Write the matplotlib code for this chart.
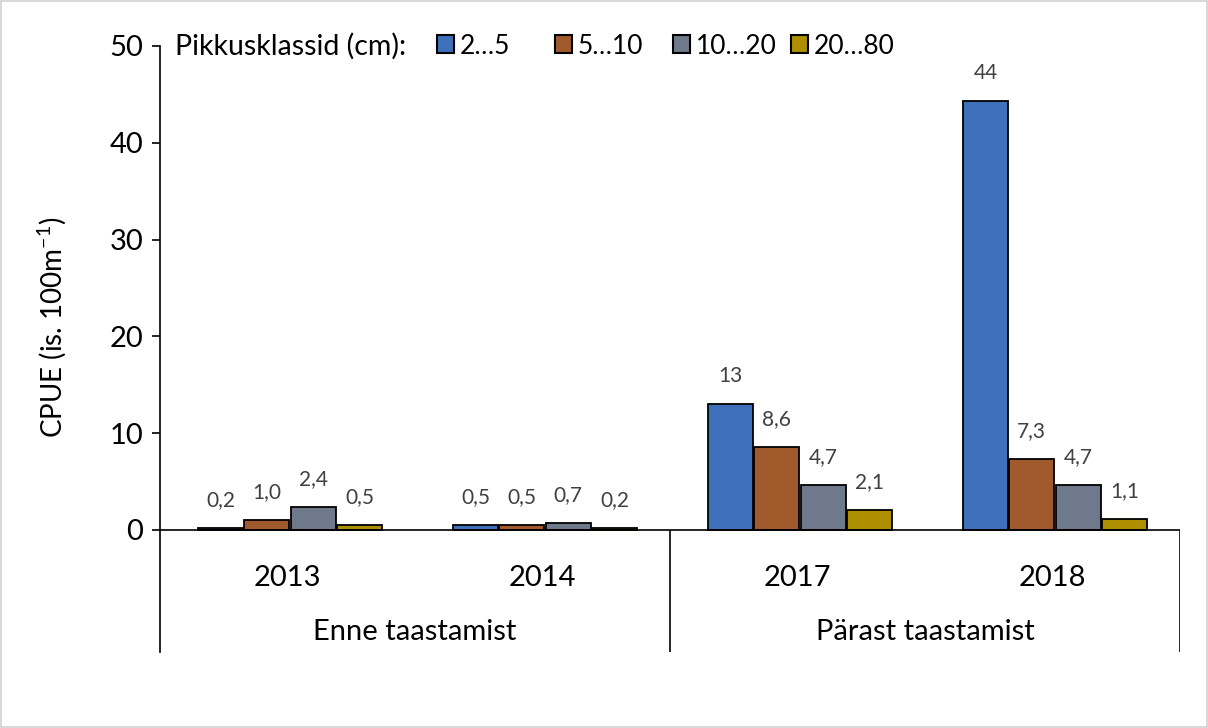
import matplotlib
matplotlib.use('Agg')
import matplotlib.pyplot as plt
import numpy as np
from matplotlib.patches import Patch

plt.rcParams['font.family'] = ['Lato', 'DejaVu Sans']
plt.rcParams['mathtext.fontset'] = 'custom'
plt.rcParams['mathtext.rm'] = 'Lato'
plt.rcParams['mathtext.it'] = 'Lato:italic'

years = ['2013', '2014', '2017', '2018']
periods = ['Enne taastamist', 'Pärast taastamist']
classes = ['2…5', '5…10', '10…20', '20…80']
cpue = {
    '2…5':   [0.2, 0.5, 13.0, 44.3],
    '5…10':  [1.0, 0.5, 8.6, 7.3],
    '10…20': [2.4, 0.7, 4.7, 4.7],
    '20…80': [0.5, 0.2, 2.1, 1.1],
}
colors = ['#3E71BA', '#A05A2C', '#6E7A8C', '#AE8F00']


def fmt(v):
    if v >= 10:
        return str(int(round(v)))
    return f'{v:.1f}'.replace('.', ',')


fig = plt.figure(figsize=(12.08, 7.28), dpi=100)
fig.patch.set_edgecolor('#d9d9d9')
fig.patch.set_linewidth(1.5)
ax = fig.add_axes([160/1208, 1 - 652/728, 1020/1208, 606/728])

x = np.arange(len(years))
step = 0.182
width = 0.176
for i, c in enumerate(classes):
    pos = x + (i - 1.5) * step + 0.01
    bars = ax.bar(pos, cpue[c], width, color=colors[i], edgecolor='black', linewidth=1.3, zorder=3)
    for b, v in zip(bars, cpue[c]):
        ax.annotate(fmt(v), (b.get_x() + b.get_width() / 2, v), xytext=(0, 20),
                    textcoords='offset points', ha='center', va='center',
                    fontsize=15, color='#404040')

ymin = -122 / 9.68
ax.set_xlim(-0.5, 3.5)
ax.set_ylim(ymin, 50)
ax.set_yticks([0, 10, 20, 30, 40, 50])
ax.tick_params(axis='y', direction='out', length=6, width=1.2, labelsize=21, pad=6)
ax.set_xticks([])
for s in ['top', 'right', 'bottom']:
    ax.spines[s].set_visible(False)
ax.spines['left'].set_linewidth(1.2)
ax.axhline(0, color='black', linewidth=1.2, zorder=4)
ax.vlines([1.5, 3.5], ymin, 0, color='black', linewidth=1.2)

for xi, yr in zip(x, years):
    ax.text(xi, -5, yr, ha='center', va='center', fontsize=21)
for xi, p in zip([0.5, 2.5], periods):
    ax.text(xi, -10.5, p, ha='center', va='center', fontsize=21)

ax.set_ylabel('CPUE (is. 100m$^{-1}$)', fontsize=20)
ax.yaxis.set_label_coords(-0.09, 0.535)

ly = 1 - 46/728
fig.text(175/1208, ly, 'Pikkusklassid (cm):', ha='left', va='center', fontsize=20.5)
for i, c in enumerate(classes):
    h = Patch(facecolor=colors[i], edgecolor='black', linewidth=1.5)
    fig.legend([h], [c], loc='center left', bbox_to_anchor=((437 + i * 118) / 1208, ly),
               frameon=False, fontsize=19, handlelength=0.65, handleheight=0.65,
               handletextpad=0.2, borderpad=0, borderaxespad=0)

fig.savefig('out.png', dpi=100, edgecolor=fig.get_edgecolor())
plt.close()
